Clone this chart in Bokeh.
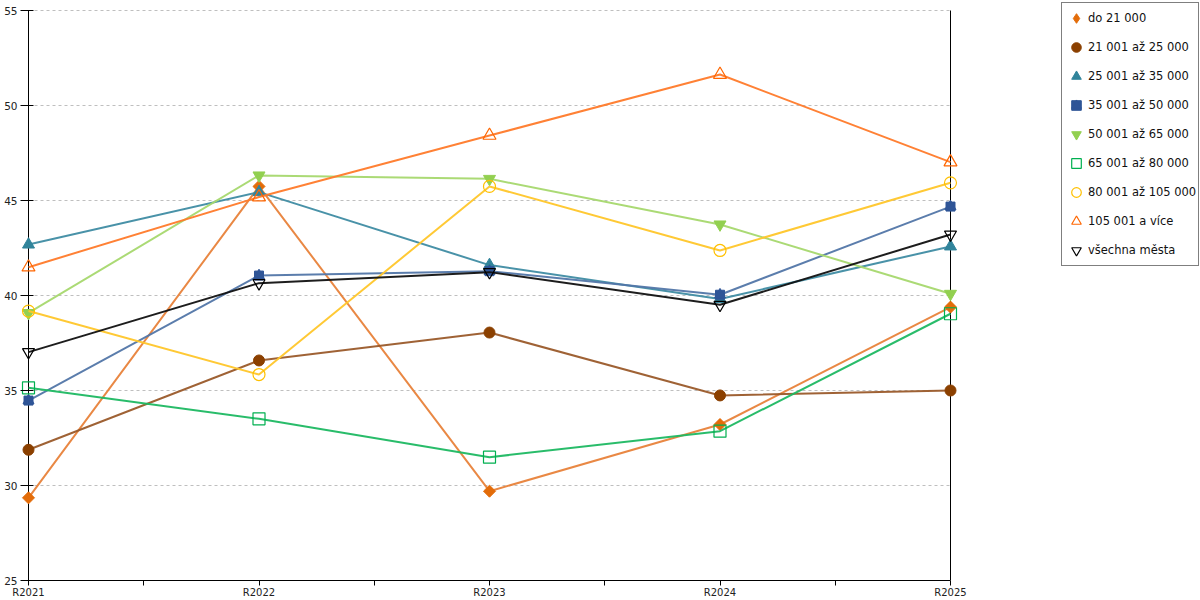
import math
from bokeh.plotting import figure
from bokeh.models import Range1d, FixedTicker, Legend, LegendItem
from bokeh.embed import file_html
from bokeh.resources import INLINE

categories = ["R2021", "R2022", "R2023", "R2024", "R2025"]
series_names = ["do 21 000", "21 001 až 25 000", "25 001 až 35 000", "35 001 až 50 000",
                "50 001 až 65 000", "65 001 až 80 000", "80 001 až 105 000",
                "105 001 a více", "všechna města"]
do_21000 = [29.35, 45.74, 29.70, 33.21, 39.39]
s21_25 = [31.88, 36.58, 38.05, 34.74, 35.00]
s25_35 = [42.68, 45.44, 41.60, 39.82, 42.58]
s35_50 = [34.47, 41.05, 41.28, 40.04, 44.68]
s50_65 = [39.08, 46.32, 46.14, 43.74, 40.09]
s65_80 = [35.14, 33.51, 31.49, 32.86, 39.04]
s80_105 = [39.18, 35.84, 45.74, 42.37, 45.93]
s105 = [41.49, 45.18, 48.42, 51.63, 47.02]
vsechna = [37.02, 40.65, 41.23, 39.51, 43.21]
y_ticks = [25, 30, 35, 40, 45, 50, 55]

values = [do_21000, s21_25, s25_35, s35_50, s50_65, s65_80, s80_105, s105, vsechna]
x = list(range(len(categories)))
x_first, x_last = x[0], x[-1]
y_min, y_max = y_ticks[0], y_ticks[-1]

# layout: plot area spans 28..950 px horizontally, 10..580 px vertically;
# the frame is a little wider so markers on the edges are not cut and the
# legend can sit to the right of the plot area
W, H = 1200, 600
frame_left, area_left, area_right, top_px, bottom_px = 20, 28, 950, 10, 580
ppu = (area_right - area_left) / (x_last - x_first)
x_start = x_first - (area_left - frame_left) / ppu
x_end = x_last + (W - area_right) / ppu
y_end = y_max + (y_max - y_min) * top_px / (bottom_px - top_px)

# (line color, marker, marker size, fill color, line color of marker)
styles = [
    ("#E8823A", "diamond", 8.5, "#E36C09", "#E36C09"),
    ("#9A5A2A", "circle", 11, "#8B4000", "#8B4000"),
    ("#3F8CA3", "triangle", 12, "#31849B", "#31849B"),
    ("#5276A8", "house", 11, "#2F5597", "#2F5597"),
    ("#A6D86E", "inverted_triangle", 12, "#92D050", "#92D050"),
    ("#1DB862", "square", 12, None, "#00B050"),
    ("#FFC62A", "circle", 12, None, "#FFC000"),
    ("#FF7A2A", "triangle", 13, None, "#FF6600"),
    ("#111111", "inverted_triangle", 12, None, "#000000"),
]

p = figure(width=W, height=H, output_backend="svg", toolbar_location=None,
           x_range=Range1d(x_start, x_end), y_range=Range1d(y_min, y_end),
           min_border_left=frame_left, min_border_top=0, min_border_bottom=H - bottom_px,
           min_border_right=0)
p.outline_line_color = None
p.background_fill_color = "white"
p.xgrid.grid_line_color = None
p.ygrid.grid_line_color = None

# horizontal dashed gridlines limited to the plot area
grid_y = y_ticks[1:]
p.segment(x0=[x_first] * len(grid_y), x1=[x_last] * len(grid_y), y0=grid_y, y1=grid_y,
          line_color="#BFBFBF", line_dash="3 3", line_width=1)
# left and right axis lines of the plot area
p.segment(x0=[x_first, x_last], x1=[x_first, x_last], y0=[y_min, y_min], y1=[y_max, y_max],
          line_color="black", line_width=1)

p.yaxis.ticker = FixedTicker(ticks=y_ticks)
p.yaxis.bounds = (y_min, y_max)
p.yaxis.major_tick_in = 13
p.yaxis.major_tick_out = 0
p.yaxis.minor_tick_line_color = None
p.yaxis.major_label_standoff = 3
p.yaxis.axis_line_color = None
p.yaxis.major_tick_line_color = "black"
p.yaxis.major_label_text_font = "DejaVu Sans"
p.yaxis.major_label_text_font_size = "10.5px"
p.yaxis.major_label_text_color = "#222222"

p.xaxis.ticker = FixedTicker(ticks=x, minor_ticks=[i + 0.5 for i in x[:-1]])
p.xaxis.bounds = (x_first, x_last)
p.xaxis.major_label_overrides = {i: c for i, c in zip(x, categories)}
p.xaxis.major_tick_in = 0
p.xaxis.major_tick_out = 5
p.xaxis.minor_tick_in = 0
p.xaxis.minor_tick_out = 5
p.xaxis.minor_tick_line_color = "black"
p.xaxis.major_tick_line_color = "black"
p.xaxis.axis_line_color = "black"
p.xaxis.major_label_standoff = 1
p.xaxis.major_label_text_font = "DejaVu Sans"
p.xaxis.major_label_text_font_size = "10px"
p.xaxis.major_label_text_color = "#222222"

items = []
for name, vals, (lc, mk, sz, fc, mc) in zip(series_names, values, styles):
    p.line(x, vals, line_color=lc, line_width=2, line_alpha=0.95)
    if mk == "house":
        r1 = p.scatter(x, vals, marker="square", size=sz - 2, fill_color=fc, line_color=mc)
        r2 = p.scatter(x, vals, marker="triangle", size=sz, fill_color=fc, line_color=mc)
        rends = [r1, r2]
    elif mk == "diamond":
        # diamond used for the legend sample, hidden under the rotated square in the plot
        r_leg = p.scatter(x, vals, marker="diamond", size=10, fill_color=fc, line_color=mc)
        p.scatter(x, vals, marker="square", angle=math.pi / 4, size=sz,
                  fill_color=fc, line_color=mc)
        rends = [r_leg]
    else:
        if fc is None:
            r = p.scatter(x, vals, marker=mk, size=sz, fill_color="white", fill_alpha=0,
                          line_color=mc, line_width=1.2)
        else:
            r = p.scatter(x, vals, marker=mk, size=sz, fill_color=fc, line_color=mc)
        rends = [r]
    items.append(LegendItem(label=name, renderers=rends))

legend = Legend(items=items, location=(1061 - frame_left, bottom_px - 266))
legend.label_text_font = "DejaVu Sans"
legend.label_text_font_size = "11.5px"
legend.label_text_color = "#111111"
legend.glyph_width = 24
legend.glyph_height = 26
legend.label_height = 26
legend.label_standoff = 0
legend.spacing = 3
legend.padding = 2
legend.margin = 0
legend.border_line_color = "black"
legend.border_line_width = 1
legend.background_fill_color = "white"
p.add_layout(legend)

open("out.html", "w").write(file_html(p, INLINE))
